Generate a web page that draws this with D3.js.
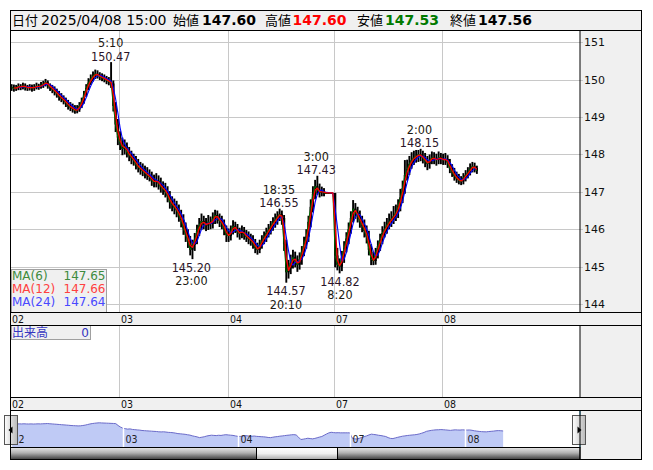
<!DOCTYPE html>
<html><head><meta charset="utf-8">
<script src="https://cdn.jsdelivr.net/npm/d3@7"></script>
<style>body{margin:0;background:#fff}svg{display:block}</style>
</head><body>
<svg id="c" width="653" height="470"></svg>
<script>
// ---------- data ----------
const dayLabels = ["02","03","04","07","08"];
const dayStartHours = [0,24,48,72,96];       // hours since 02 07:00 (weekend removed)
const barHours = 0.5;                          // one candle = 30 minutes
const firstOpen = 149.78;
const closes02 = [149.80,149.76,149.79,149.82,149.80,149.84,149.80,149.78,149.81,149.77,149.80,149.83,149.81,149.85,149.88,149.93,149.85,149.80,149.74,149.68,149.62,149.55,149.50,149.44,149.38,149.30,149.26,149.22,149.17,149.20,149.30,149.42,149.60,149.78,149.92,150.02,150.10,150.16,150.12,150.08,150.05,150.02,149.98,149.95,149.90,149.30,148.80,148.45];
const highs02  = [149.88,149.87,149.86,149.90,149.88,149.92,149.90,149.86,149.88,149.87,149.88,149.92,149.89,149.94,149.97,150.02,149.98,149.90,149.86,149.82,149.76,149.70,149.64,149.58,149.52,149.46,149.40,149.36,149.32,149.32,149.40,149.52,149.70,149.88,150.04,150.14,150.22,150.27,150.25,150.20,150.17,150.14,150.10,150.07,150.47,149.98,149.40,148.95];
const lows02   = [149.70,149.68,149.70,149.72,149.72,149.74,149.71,149.70,149.71,149.68,149.70,149.74,149.73,149.76,149.78,149.82,149.76,149.70,149.64,149.58,149.52,149.44,149.40,149.34,149.27,149.20,149.16,149.12,149.09,149.10,149.14,149.24,149.36,149.54,149.72,149.86,149.95,150.02,150.03,149.99,149.96,149.93,149.88,149.85,149.78,149.15,148.60,148.25];
const closes03 = [148.30,148.15,148.22,148.05,147.98,147.90,147.84,147.72,147.66,147.60,147.55,147.50,147.44,147.40,147.30,147.26,147.30,147.22,147.12,147.08,147.00,146.88,146.72,146.66,146.58,146.50,146.36,146.25,146.02,145.85,145.68,145.45,145.58,145.72,145.95,146.10,146.22,146.15,146.10,146.20,146.14,146.28,146.38,146.30,146.22,146.15,146.00,145.85];
const highs03  = [148.62,148.45,148.40,148.32,148.20,148.10,148.02,147.96,147.88,147.80,147.76,147.70,147.66,147.60,147.54,147.46,147.50,147.44,147.38,147.28,147.24,147.15,147.02,146.88,146.82,146.76,146.66,146.52,146.40,146.18,146.00,145.82,145.72,145.90,146.12,146.30,146.42,146.36,146.30,146.38,146.34,146.45,146.52,146.50,146.42,146.36,146.26,146.10];
const lows03   = [148.12,147.98,148.00,147.92,147.82,147.74,147.70,147.60,147.52,147.46,147.42,147.36,147.32,147.28,147.16,147.12,147.12,147.06,146.98,146.92,146.85,146.72,146.55,146.48,146.40,146.32,146.20,146.05,145.85,145.66,145.50,145.30,145.20,145.42,145.60,145.82,145.98,146.00,145.95,145.98,146.00,146.02,146.14,146.15,146.06,146.00,145.84,145.66];
const closes04 = [145.82,145.95,146.08,146.02,145.92,145.88,145.96,145.85,145.80,145.74,145.70,145.62,145.50,145.45,145.58,145.70,145.78,145.90,145.98,146.08,146.18,146.25,146.35,146.40,146.30,145.60,144.85,144.95,145.10,145.25,145.15,145.05,145.20,145.40,145.62,145.80,146.20,146.60,146.95,147.15,147.05,146.98,147.02,146.97,146.97,146.97,146.97,146.97];
const highs04  = [146.02,146.10,146.24,146.20,146.14,146.04,146.10,146.06,145.98,145.94,145.88,145.84,145.74,145.64,145.72,145.84,145.94,146.04,146.14,146.22,146.32,146.42,146.48,146.55,146.50,146.38,145.72,145.18,145.32,145.45,145.40,145.30,145.38,145.55,145.80,146.00,146.36,146.80,147.15,147.32,147.43,147.22,147.14,147.10,146.97,146.97,146.97,146.97];
const lows04   = [145.66,145.70,145.86,145.90,145.78,145.72,145.76,145.72,145.66,145.60,145.56,145.48,145.36,145.32,145.36,145.48,145.60,145.66,145.78,145.86,145.96,146.04,146.12,146.22,146.12,145.42,144.57,144.68,144.80,144.95,144.98,144.86,144.92,145.05,145.28,145.48,145.66,146.05,146.45,146.80,146.92,146.85,146.88,146.88,146.97,146.97,146.97,146.97];
const closes07 = [145.30,145.05,145.00,145.25,145.50,145.75,146.00,146.30,146.55,146.45,146.35,146.20,146.10,145.95,145.80,145.45,145.20,145.15,145.35,145.55,145.72,145.90,146.00,146.12,146.20,146.28,146.35,146.45,146.62,146.85,147.10,147.45,147.60,147.75,147.85,147.92,147.95,148.00,147.96,147.90,147.82,147.75,147.85,147.92,147.88,147.85,147.92,147.88];
const highs07  = [146.97,145.50,145.22,145.42,145.68,145.92,146.18,146.48,146.78,146.70,146.60,146.50,146.36,146.26,146.10,145.96,145.60,145.40,145.50,145.70,145.88,146.08,146.20,146.30,146.42,146.48,146.62,146.66,146.80,147.08,147.30,147.85,147.86,147.96,148.06,148.10,148.12,148.12,148.15,148.10,148.04,147.96,148.00,148.08,148.06,148.02,148.08,148.04];
const lows07   = [144.98,144.90,144.82,144.88,145.10,145.38,145.60,145.88,146.18,146.28,146.18,146.04,145.92,145.78,145.62,145.30,145.04,145.04,145.05,145.22,145.42,145.60,145.78,145.88,146.00,146.06,146.14,146.22,146.30,146.48,146.70,146.95,147.30,147.45,147.62,147.72,147.78,147.80,147.82,147.76,147.66,147.58,147.62,147.74,147.74,147.70,147.74,147.74];
const closes08 = [147.85,147.88,147.78,147.62,147.52,147.42,147.35,147.30,147.28,147.38,147.45,147.52,147.62,147.68,147.64,147.56];
const highs08  = [148.02,148.04,147.98,147.88,147.74,147.64,147.54,147.48,147.42,147.50,147.58,147.66,147.76,147.80,147.78,147.70];
const lows08   = [147.72,147.72,147.64,147.50,147.40,147.30,147.24,147.20,147.18,147.20,147.28,147.36,147.44,147.52,147.52,147.48];

const priceTicks = [144,145,146,147,148,149,150,151];
const maPeriods = [6,12,24];                 // in 5-minute bars, as in the legend
const maNames = ["MA(6)","MA(12)","MA(24)"];
const maLegendValues = ["147.65","147.66","147.64"];
const annTimes  = ["5:10","23:00","18:35","20:10","3:00","8:20","2:00"];
const annValues = [150.47,145.20,146.55,144.57,147.43,144.82,148.15];
const annHours  = [22.17,40,59.58,61.17,68,73.33,91];
const annKinds  = ["high","low","high","low","high","low","high"];
const headerDate = "2025/04/08 15:00";
const headerNames = ["始値","高値","安値","終値"];
const headerValues = ["147.60","147.60","147.53","147.56"];
const volumeLabel = "出来高", volumeValue = "0";

// ---------- build ----------
const closes = [].concat(closes02,closes03,closes04,closes07,closes08);
const highs  = [].concat(highs02,highs03,highs04,highs07,highs08);
const lows   = [].concat(lows02,lows03,lows04,lows07,lows08);
const bars = closes.map((c,i)=>({h:i*barHours, o: i? closes[i-1] : firstOpen, c, hi:highs[i], lo:lows[i]}));

const svg = d3.select("#c");
const LAT = "'DejaVu Sans', sans-serif";
const COND = "'DejaVu Sans Condensed','DejaVu Sans', sans-serif";
const CJK = "'Noto Sans CJK JP', sans-serif";
const GRAY = "#f0f0f0", GRID = "#c8c8c8";

const L = 10.5, R = 580, RR = 641.5;
const plotTop = 30.5, plotBot = 312.5, strip1B = 325.5, volB = 397.5, strip2B = 410.5, navB = 447.5, bottom = 459.5;

const x = d3.scaleLinear().domain(dayStartHours).range([10.5,119,227.5,334,442]);
const y = d3.scaleLinear().domain([144,151]).range([304,42.3]);

// backgrounds
svg.append("rect").attr("x",L).attr("y",10.5).attr("width",RR-L).attr("height",20).attr("fill",GRAY);
svg.append("rect").attr("x",R).attr("y",plotTop).attr("width",RR-R).attr("height",plotBot-plotTop).attr("fill",GRAY);
svg.append("rect").attr("x",L).attr("y",plotBot).attr("width",RR-L).attr("height",strip1B-plotBot).attr("fill",GRAY);
svg.append("rect").attr("x",R).attr("y",strip1B).attr("width",RR-R).attr("height",volB-strip1B).attr("fill",GRAY);
svg.append("rect").attr("x",L).attr("y",volB).attr("width",RR-L).attr("height",strip2B-volB).attr("fill",GRAY);
svg.append("rect").attr("x",R).attr("y",strip2B).attr("width",RR-R).attr("height",bottom-strip2B).attr("fill",GRAY);

// header
const hdr = svg.append("g");
hdr.append("text").attr("x",12).attr("y",24.5).attr("font-family",CJK).attr("font-size",13).text("日付");
hdr.append("text").attr("x",41).attr("y",24.5).attr("font-family",LAT).attr("font-size",14).text(headerDate);
const hx = [173,265,357,450], vx = [202,292.5,385,478];
const vcol = ["#000","#ff0000","#007a00","#000"];
headerNames.forEach((n,i)=>{
  hdr.append("text").attr("x",hx[i]).attr("y",24.5).attr("font-family",CJK).attr("font-size",13).text(n);
  hdr.append("text").attr("x",vx[i]).attr("y",24.5).attr("font-family",LAT).attr("font-size",14).attr("font-weight","bold").attr("fill",vcol[i]).text(headerValues[i]);
});

// grid
const grid = svg.append("g").attr("stroke",GRID).attr("stroke-width",1);
grid.selectAll("line.h").data(priceTicks).join("line").attr("class","h")
  .attr("x1",L).attr("x2",R).attr("y1",d=>Math.round(y(d))+0.5).attr("y2",d=>Math.round(y(d))+0.5);
const dayLines = dayStartHours.slice(1);
[[plotTop,plotBot],[strip1B,volB]].forEach(([a,b])=>{
  grid.append("g").selectAll("line").data(dayLines).join("line")
    .attr("x1",d=>Math.round(x(d))+0.5).attr("x2",d=>Math.round(x(d))+0.5).attr("y1",a).attr("y2",b);
});

// right axis
const ax = svg.append("g").attr("transform",`translate(${R},0)`)
  .call(d3.axisRight(y).tickValues(priceTicks).tickSize(3).tickPadding(1).tickFormat(d3.format("d")));
ax.select(".domain").remove();
ax.selectAll(".tick line").attr("stroke",GRID);
ax.selectAll(".tick text").attr("font-family",LAT).attr("font-size",11).attr("fill","#111");
ax.selectAll(".tick").attr("transform",d=>`translate(0,${Math.round(y(d))+0.5})`);

// candles (dense: range bar + body)
svg.append("clipPath").attr("id","pc").append("rect").attr("x",L).attr("y",plotTop).attr("width",R-L).attr("height",plotBot-plotTop);
const pg = svg.append("g").attr("clip-path","url(#pc)");
const step = x(barHours)-x(0);
pg.append("g").selectAll("rect.w").data(bars).join("rect").attr("class","w")
  .attr("x",d=>x(d.h+barHours/2)-step*0.42).attr("width",step*0.84)
  .attr("y",d=>y(d.hi)).attr("height",d=>Math.max(1,y(d.lo)-y(d.hi)))
  .attr("fill","#000");
pg.append("g").selectAll("rect.b").data(bars).join("rect").attr("class","b")
  .attr("x",d=>x(d.h)).attr("width",step)
  .attr("y",d=>y(Math.max(d.o,d.c))).attr("height",d=>Math.max(1,Math.abs(y(d.o)-y(d.c))))
  .attr("fill","#000");

// moving averages (periods in 5-minute bars converted to 30-minute candles)
function ma(period){
  const w = Math.max(1, Math.round(period*5/(barHours*60)));
  return bars.map((b,i)=> i<w-1 ? null : {h:b.h, v:d3.mean(closes.slice(i-w+1,i+1))}).filter(Boolean);
}
const lineGen = d3.line().x(d=>x(d.h+barHours/2)).y(d=>y(d.v));
const lineCol = ["#006e00","#ff0000","#0000ff"];
const lineW = [1,1.3,1.1];
[0,2,1].forEach(k=>{
  pg.append("path").datum(ma(maPeriods[k])).attr("d",lineGen).attr("fill","none")
    .attr("stroke",lineCol[k]).attr("stroke-width",lineW[k]).attr("stroke-linejoin","round");
});

// annotations
const ann = svg.append("g").attr("font-family",COND).attr("font-size",12.5).attr("text-anchor","middle").attr("fill","#2a1428");
annValues.forEach((v,i)=>{
  const cx = x(annHours[i]), py = y(v);
  if(annKinds[i]==="high"){
    ann.append("text").attr("x",cx).attr("y",py-15).attr("fill","#201810").text(annTimes[i]);
    ann.append("text").attr("x",cx).attr("y",py-1.5).text(v.toFixed(2));
  } else {
    ann.append("text").attr("x",cx).attr("y",py+12.5).text(v.toFixed(2));
    ann.append("text").attr("x",cx).attr("y",py+26).attr("fill","#201810").text(annTimes[i]);
  }
});

// MA legend box
const lg = svg.append("g");
lg.append("rect").attr("x",11.5).attr("y",269.5).attr("width",95).attr("height",plotBot-269.5).attr("fill",GRAY).attr("stroke","#a0a0a0");
const legCol = ["#3d8b3d","#ff4040","#4848ff"];
maNames.forEach((n,i)=>{
  lg.append("text").attr("x",12).attr("y",279.5+i*13.4).attr("font-family",LAT).attr("font-size",12).attr("fill",legCol[i]).text(n);
  lg.append("text").attr("x",105.5).attr("y",279.5+i*13.4).attr("text-anchor","end").attr("font-family",LAT).attr("font-size",12).attr("fill",legCol[i]).text(maLegendValues[i]);
});

// volume label box
svg.append("rect").attr("x",11.5).attr("y",strip1B).attr("width",79).attr("height",14).attr("fill",GRAY).attr("stroke","#a0a0a0");
svg.append("text").attr("x",12).attr("y",strip1B+11.5).attr("font-family",CJK).attr("font-size",12).attr("fill","#3535c0").text(volumeLabel);
svg.append("text").attr("x",89).attr("y",strip1B+11.5).attr("text-anchor","end").attr("font-family",LAT).attr("font-size",12).attr("fill","#3535c0").text(volumeValue);

// date strips
[plotBot, volB].forEach(top=>{
  svg.append("g").selectAll("text").data(dayStartHours).join("text")
    .attr("x",(d,i)=> i===0 ? 12 : Math.round(x(d))+2).attr("y",top+10)
    .attr("font-family",COND).attr("font-size",10.5).attr("fill","#111").text((d,i)=>dayLabels[i]);
});

// navigator
const navX = d3.scaleLinear().domain(dayStartHours).range([11,124,239,351,466]);
const navY = d3.scaleLinear().domain(d3.extent(closes)).range([439.5,422.8]);
svg.append("clipPath").attr("id","nc").append("rect").attr("x",L).attr("y",strip2B).attr("width",R-L).attr("height",navB-strip2B);
const ng = svg.append("g").attr("clip-path","url(#nc)");
ng.append("path").datum(bars).attr("fill","#bfcaf5")
  .attr("d",d3.area().x(d=>navX(d.h+barHours/2)).y0(navB).y1(d=>navY(d.c)));
ng.append("path").datum(bars).attr("fill","none").attr("stroke","#6a6ac8").attr("stroke-width",1)
  .attr("d",d3.line().x(d=>navX(d.h+barHours/2)).y(d=>navY(d.c)));
ng.append("g").selectAll("line").data(dayLines).join("line")
  .attr("x1",d=>navX(d)-0.5).attr("x2",d=>navX(d)-0.5).attr("y1",strip2B).attr("y2",navB)
  .attr("stroke","#fff").attr("stroke-width",1.5);
ng.append("g").selectAll("text").data(dayStartHours).join("text")
  .attr("x",d=>navX(d)+1.5).attr("y",443).attr("font-family",COND).attr("font-size",10.5).attr("fill","#222")
  .text((d,i)=>dayLabels[i]);

// cyan selection lines
[L, R].forEach(xx=>svg.append("line").attr("x1",xx).attr("x2",xx).attr("y1",strip2B).attr("y2",navB).attr("stroke","#2aa8d8"));

// scrollbar
const defs = svg.append("defs");
const g1 = defs.append("linearGradient").attr("id","trk").attr("x1",0).attr("x2",0).attr("y1",0).attr("y2",1);
g1.append("stop").attr("offset","0").attr("stop-color","#e8e8e8");
g1.append("stop").attr("offset","0.45").attr("stop-color","#b0b0b0");
g1.append("stop").attr("offset","1").attr("stop-color","#3c3c3c");
const g2 = defs.append("linearGradient").attr("id","thm").attr("x1",0).attr("x2",0).attr("y1",0).attr("y2",1);
g2.append("stop").attr("offset","0").attr("stop-color","#ffffff");
g2.append("stop").attr("offset","0.5").attr("stop-color","#f0f0f0");
g2.append("stop").attr("offset","1").attr("stop-color","#a8a8a8");
const g3 = defs.append("linearGradient").attr("id","btn").attr("x1",0).attr("x2",1).attr("y1",0).attr("y2",0);
g3.append("stop").attr("offset","0").attr("stop-color","#ffffff");
g3.append("stop").attr("offset","1").attr("stop-color","#b8b8b8");
svg.append("rect").attr("x",L).attr("y",navB).attr("width",R-L).attr("height",bottom-navB).attr("fill","url(#trk)").attr("stroke","#000");
svg.append("rect").attr("x",256.5).attr("y",navB).attr("width",81).attr("height",bottom-navB).attr("fill","url(#thm)").attr("stroke","#000");

// nav buttons
[[4.5,-1],[572.5,1]].forEach(([bx,dir])=>{
  svg.append("rect").attr("x",bx).attr("y",415.5).attr("width",13).attr("height",29).attr("fill","url(#btn)").attr("stroke","#555");
  const cx = bx+6.5, cy = 430;
  svg.append("path").attr("d",`M${cx+dir*2.5},${cy} L${cx-dir*1.5},${cy-3.5} L${cx-dir*1.5},${cy+3.5}Z`).attr("fill","#000");
});

// frame lines
const fr = svg.append("g").attr("stroke","#000").attr("fill","none");
fr.append("rect").attr("x",L).attr("y",10.5).attr("width",RR-L).attr("height",bottom-10.5);
[plotTop,plotBot,strip1B,volB,strip2B].forEach(yy=>fr.append("line").attr("x1",L).attr("x2",RR).attr("y1",yy).attr("y2",yy));
[[plotTop,plotBot],[strip1B,volB],[strip2B,bottom]].forEach(([a,b])=>fr.append("line").attr("x1",R).attr("x2",R).attr("y1",a).attr("y2",b));
</script>
</body></html>
